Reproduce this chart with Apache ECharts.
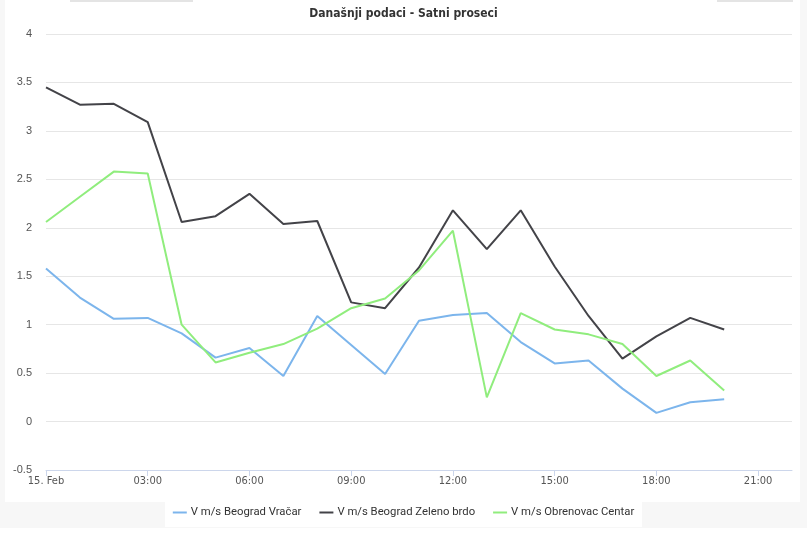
<!DOCTYPE html>
<html>
<head>
<meta charset="utf-8">
<script src="https://cdn.jsdelivr.net/npm/echarts@6/dist/echarts.min.js"></script>
<style>
html,body{margin:0;padding:0;background:#fff;}
#c{width:807px;height:538px;}
</style>
</head>
<body>
<div id="c"></div>
<script>
var hours = [0,1,2,3,4,5,6,7,8,9,10,11,12,13,14,15,16,17,18,19,20];
var vracar = [1.58,1.28,1.06,1.07,0.91,0.66,0.76,0.47,1.09,0.79,0.49,1.04,1.10,1.12,0.82,0.60,0.63,0.34,0.09,0.20,0.23];
var zelenoBrdo = [3.45,3.27,3.28,3.09,2.06,2.12,2.35,2.04,2.07,1.23,1.17,1.59,2.18,1.78,2.18,1.60,1.09,0.65,0.88,1.07,0.95];
var obrenovac = [2.06,2.32,2.58,2.56,1.00,0.61,0.71,0.80,0.96,1.17,1.27,1.56,1.97,0.25,1.12,0.95,0.90,0.80,0.47,0.63,0.32];
var tickHours = [0,3,6,9,12,15,18,21];
var seriesNames = ['V m/s Beograd Vračar','V m/s Beograd Zeleno brdo','V m/s Obrenovac Centar'];
var title = 'Današnji podaci - Satni proseci';
var firstLabel = '15. Feb';

function pairs(vals){ return hours.map(function(h,i){ return [h, vals[i]]; }); }

var chart = echarts.init(document.getElementById('c'));
var narrow = '"Liberation Sans Narrow","DejaVu Sans Condensed","Roboto Condensed",sans-serif';
chart.setOption({
  animation:false,
  backgroundColor:'#ffffff',
  graphic:[
    {type:'rect', shape:{x:0,y:0,width:5,height:502}, style:{fill:'#f7f7f7'}, z:-10},
    {type:'rect', shape:{x:800,y:0,width:7,height:502}, style:{fill:'#f7f7f7'}, z:-10},
    {type:'rect', shape:{x:0,y:502,width:807,height:26}, style:{fill:'#f7f7f7'}, z:-10},
    {type:'rect', shape:{x:165,y:502,width:477,height:25}, style:{fill:'#ffffff'}, z:-9},
    {type:'rect', shape:{x:70,y:0,width:123,height:2}, style:{fill:'#e4e4e4'}, z:-8},
    {type:'rect', shape:{x:717,y:0,width:76,height:2}, style:{fill:'#e4e4e4'}, z:-8}
  ],
  title:{
    text:title, left:'center', top:3,
    textStyle:{fontSize:12, fontWeight:'bold', color:'#333', fontFamily:narrow}
  },
  legend:{
    bottom:15, left:'center', icon:'rect', itemWidth:14, itemHeight:2, itemGap:18,
    textStyle:{fontSize:11.3, color:'#333', fontFamily:'Roboto, sans-serif', padding:[0,0,0,-1]},
    data:seriesNames
  },
  grid:{left:46, right:15, top:34, bottom:68, containLabel:false},
  xAxis:{
    type:'value', min:0, max:22, interval:3,
    axisLine:{show:true, onZero:false, lineStyle:{color:'#ccd6eb', width:1}},
    axisTick:{show:true, length:6, customValues:tickHours, lineStyle:{color:'#ccd6eb'}},
    splitLine:{show:false},
    axisLabel:{
      color:'#555', fontSize:11, fontFamily:narrow, margin:6, customValues:tickHours,
      formatter:function(v){ if(v===0) return firstLabel; var h=Math.round(v); return (h<10?'0':'')+h+':00'; }
    }
  },
  yAxis:{
    type:'value', min:-0.5, max:4, interval:0.5,
    axisLine:{show:false}, axisTick:{show:false},
    splitLine:{lineStyle:{color:'#e6e6e6', width:1}},
    axisLabel:{color:'#555', fontSize:11, fontFamily:'"Liberation Sans",Arial,sans-serif', margin:14}
  },
  series:[
    {name:seriesNames[0], type:'line', data:pairs(vracar), showSymbol:false, color:'#7cb5ec', lineStyle:{width:2, color:'#7cb5ec'}},
    {name:seriesNames[1], type:'line', data:pairs(zelenoBrdo), showSymbol:false, color:'#434348', lineStyle:{width:2, color:'#434348'}},
    {name:seriesNames[2], type:'line', data:pairs(obrenovac), showSymbol:false, color:'#90ed7d', lineStyle:{width:2, color:'#90ed7d'}}
  ]
});
</script>
</body>
</html>
